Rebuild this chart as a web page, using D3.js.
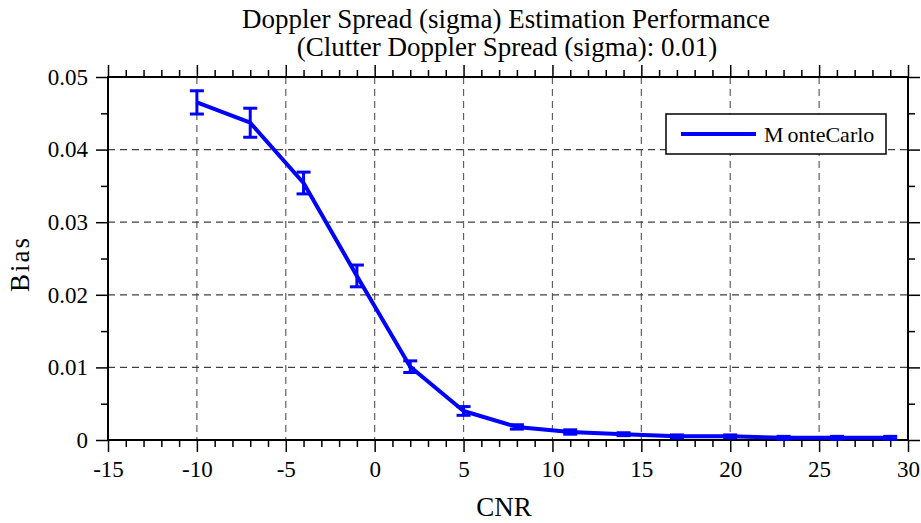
<!DOCTYPE html>
<html>
<head>
<meta charset="utf-8">
<script src="https://cdn.jsdelivr.net/npm/d3@7"></script>
<style>
  html, body { margin: 0; padding: 0; background: #fff; }
  svg { display: block; }
  svg text { font-family: "Liberation Serif", "Times New Roman", serif; }
</style>
</head>
<body>
<svg id="chart" width="921" height="523"></svg>
<script>
const titleLines = ["Doppler Spread (sigma) Estimation Performance", "(Clutter Doppler Spread (sigma): 0.01)"];
const xLabel = "CNR";
const yLabel = "Bias";
const seriesName = "MonteCarlo";
const cnr = [-10, -7, -4, -1, 2, 5, 8, 11, 14, 17, 20, 23, 26, 29];
const bias = [0.0465, 0.0437, 0.0354, 0.0226, 0.0101, 0.0040, 0.0018, 0.0011, 0.0008, 0.0005, 0.0005, 0.0003, 0.0003, 0.0003];
const biasErr = [0.0016, 0.0020, 0.0015, 0.0015, 0.0008, 0.0006, 0.0003, 0.0003, 0.0002, 0.0002, 0.0002, 0.0002, 0.0002, 0.0002];
const xTicks = [-15, -10, -5, 0, 5, 10, 15, 20, 25, 30];
const xTickLabels = ["-15", "-10", "-5", "0", "5", "10", "15", "20", "25", "30"];
const yTicks = [0, 0.01, 0.02, 0.03, 0.04, 0.05];
const yTickLabels = ["0", "0.01", "0.02", "0.03", "0.04", "0.05"];

(function () {
const svg = d3.select("#chart");
const L = 108, R = 908, T = 77, B = 440;
const x = d3.scaleLinear().domain([-15, 30]).range([L, R]);
const y = d3.scaleLinear().domain([0, 0.05]).range([B, T]);

const xMinor = d3.range(-15, 30.01, 1).filter(v => xTicks.indexOf(v) < 0);
const yMinor = d3.range(0.005, 0.05, 0.01);

// grid
const grid = svg.append("g");
grid.selectAll("line.vg").data(xTicks.slice(1, -1)).join("line")
  .attr("x1", d => x(d)).attr("x2", d => x(d)).attr("y1", T).attr("y2", B)
  .attr("stroke", "#606060").attr("stroke-width", 1.2).attr("stroke-dasharray", "7,5");
grid.selectAll("line.hg").data(yTicks.slice(1, -1)).join("line")
  .attr("x1", L).attr("x2", R).attr("y1", d => y(d)).attr("y2", d => y(d))
  .attr("stroke", "#404040").attr("stroke-width", 1.2).attr("stroke-dasharray", "7,5");

const fmtY = d => yTickLabels[yTicks.findIndex(t => Math.abs(t - d) < 1e-9)];
const fmtX = d => xTickLabels[xTicks.indexOf(d)];
function styleAxis(g) {
  g.attr("font-family", "Liberation Serif").attr("font-size", 23);
  g.select(".domain").remove();
  g.selectAll(".tick line").attr("stroke", "#000").attr("stroke-width", 1.5);
  g.selectAll("text").attr("font-family", "Liberation Serif").attr("font-size", 23).attr("fill", "#000");
}
const gBottom = svg.append("g").attr("transform", `translate(0,${B})`)
  .call(d3.axisBottom(x).tickValues(xTicks).tickSize(12).tickPadding(9).tickFormat(fmtX));
styleAxis(gBottom);
const gBottomMinor = svg.append("g").attr("transform", `translate(0,${B})`)
  .call(d3.axisBottom(x).tickValues(xMinor).tickSize(7).tickFormat(""));
styleAxis(gBottomMinor);
const gTop = svg.append("g").attr("transform", `translate(0,${T})`)
  .call(d3.axisTop(x).tickValues(xTicks).tickSize(12).tickFormat(""));
styleAxis(gTop);
const gTopMinor = svg.append("g").attr("transform", `translate(0,${T})`)
  .call(d3.axisTop(x).tickValues(xMinor).tickSize(7).tickFormat(""));
styleAxis(gTopMinor);
const gLeft = svg.append("g").attr("transform", `translate(${L},0)`)
  .call(d3.axisLeft(y).tickValues(yTicks).tickSize(12).tickPadding(8).tickFormat(fmtY));
styleAxis(gLeft);
const gLeftMinor = svg.append("g").attr("transform", `translate(${L},0)`)
  .call(d3.axisLeft(y).tickValues(yMinor).tickSize(7).tickFormat(""));
styleAxis(gLeftMinor);
const gRight = svg.append("g").attr("transform", `translate(${R},0)`)
  .call(d3.axisRight(y).tickValues(yTicks).tickSize(12).tickFormat(""));
styleAxis(gRight);
const gRightMinor = svg.append("g").attr("transform", `translate(${R},0)`)
  .call(d3.axisRight(y).tickValues(yMinor).tickSize(7).tickFormat(""));
styleAxis(gRightMinor);

// frame
svg.append("rect").attr("x", L).attr("y", T).attr("width", R - L).attr("height", B - T)
  .attr("fill", "none").attr("stroke", "#000").attr("stroke-width", 2);

// data
const pts = cnr.map((c, i) => ({ c, v: bias[i], e: biasErr[i] }));
const eb = svg.append("g").attr("stroke", "#0000ff").attr("stroke-width", 3).attr("fill", "none");
pts.forEach(p => {
  const cx = x(p.c), y1 = y(p.v + p.e), y2 = y(p.v - p.e);
  eb.append("line").attr("x1", cx).attr("x2", cx).attr("y1", y1).attr("y2", y2);
  eb.append("line").attr("x1", cx - 7).attr("x2", cx + 7).attr("y1", y1).attr("y2", y1);
  eb.append("line").attr("x1", cx - 7).attr("x2", cx + 7).attr("y1", y2).attr("y2", y2);
});
svg.append("path").datum(pts)
  .attr("d", d3.line().x(d => x(d.c)).y(d => y(d.v)))
  .attr("fill", "none").attr("stroke", "#0000ff").attr("stroke-width", 4).attr("stroke-linejoin", "round");

// legend
const lg = svg.append("g");
lg.append("rect").attr("x", 666).attr("y", 114).attr("width", 220).attr("height", 40)
  .attr("fill", "#fff").attr("stroke", "#000").attr("stroke-width", 1.5);
lg.append("line").attr("x1", 681).attr("x2", 756).attr("y1", 134).attr("y2", 134)
  .attr("stroke", "#0000ff").attr("stroke-width", 4);
const lt = lg.append("text").attr("x", 764).attr("y", 142).attr("font-size", 22).attr("fill", "#000");
lt.append("tspan").text(seriesName.slice(0, 1));
lt.append("tspan").attr("dx", 4).text(seriesName.slice(1));

// titles
svg.append("text").attr("x", 506).attr("y", 28).attr("text-anchor", "middle").attr("font-size", 27).text(titleLines[0]);
svg.append("text").attr("x", 507).attr("y", 56).attr("text-anchor", "middle").attr("font-size", 27).text(titleLines[1]);
svg.append("text").attr("x", 504).attr("y", 516).attr("text-anchor", "middle").attr("font-size", 27).text(xLabel);
svg.append("text").attr("transform", "translate(29,264) rotate(-90)").attr("text-anchor", "middle")
  .attr("font-size", 27).attr("letter-spacing", 2).text(yLabel);
})();
</script>
</body>
</html>
